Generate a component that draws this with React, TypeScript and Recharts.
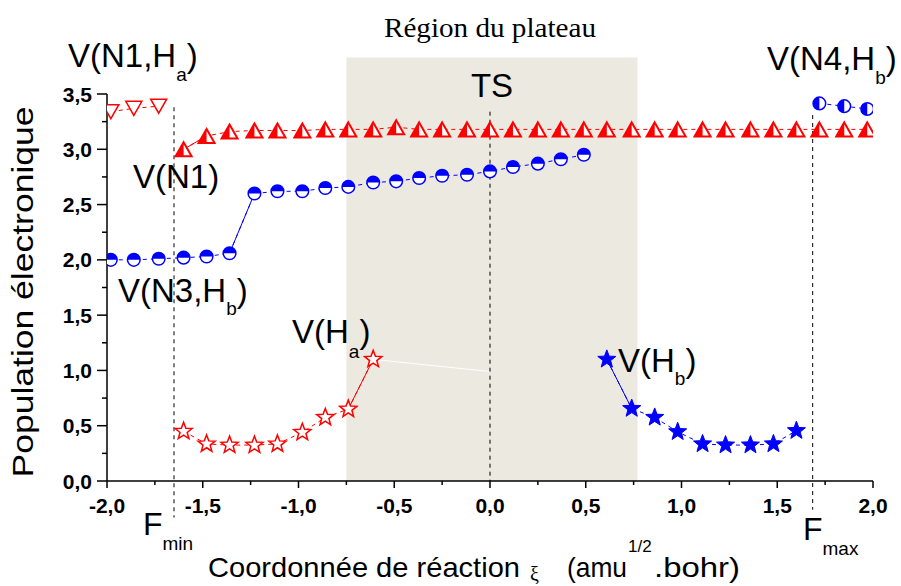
import React from "react";
import { LineChart, Line, XAxis, YAxis, ReferenceArea, ReferenceLine } from "recharts";

// coordonnée de réaction (amu^1/2.bohr) / population des bassins
const xN1Ha = [-1.98, -1.86, -1.73];
const popN1Ha = [3.34, 3.37, 3.39];

const xN1 = [
  -1.6, -1.48, -1.36, -1.23, -1.11, -0.98, -0.86, -0.74, -0.61, -0.49, -0.37, -0.25, -0.12, 0.0, 0.12,
  0.25, 0.37, 0.49, 0.61, 0.74, 0.86, 0.98, 1.11, 1.23, 1.36, 1.48, 1.6, 1.72, 1.85, 1.97,
];
const popN1 = [
  3.0, 3.12, 3.16, 3.17, 3.17, 3.17, 3.18, 3.18, 3.18, 3.2, 3.18, 3.18, 3.18, 3.18, 3.18,
  3.18, 3.18, 3.18, 3.18, 3.18, 3.18, 3.18, 3.18, 3.18, 3.18, 3.18, 3.18, 3.18, 3.18, 3.18,
];

const xN3 = [
  -1.98, -1.86, -1.73, -1.6, -1.48, -1.36, -1.23, -1.11, -0.98, -0.86, -0.74, -0.61, -0.49, -0.37, -0.25,
  -0.12, 0.0, 0.12, 0.25, 0.37, 0.49,
];
const popN3 = [
  2.0, 2.0, 2.01, 2.02, 2.03, 2.06, 2.6, 2.62, 2.62, 2.65, 2.66, 2.7, 2.71, 2.74, 2.76,
  2.77, 2.8, 2.84, 2.87, 2.91, 2.95,
];

const xHa = [-1.6, -1.48, -1.36, -1.23, -1.11, -0.98, -0.86, -0.74, -0.61];
const popHa = [0.45, 0.335, 0.325, 0.325, 0.335, 0.44, 0.575, 0.65, 1.1];

const xHb = [0.61, 0.74, 0.86, 0.98, 1.11, 1.23, 1.36, 1.48, 1.6];
const popHb = [1.1, 0.655, 0.575, 0.445, 0.335, 0.325, 0.325, 0.335, 0.455];

const xN4Hb = [1.72, 1.85, 1.97];
const popN4Hb = [3.415, 3.39, 3.365];

const xTicks = [-2, -1.75, -1.5, -1.25, -1, -0.75, -0.5, -0.25, 0, 0.25, 0.5, 0.75, 1, 1.25, 1.5, 1.75, 2];
const yTicks = [0, 0.25, 0.5, 0.75, 1, 1.25, 1.5, 1.75, 2, 2.25, 2.5, 2.75, 3, 3.25, 3.5];

// région du plateau, TS, Fmin / Fmax
const plateau = [-0.75, 0.77];
const plateauTop = 3.83;
const fMin = -1.65;
const fMax = 1.685;

const RED = "#FF0000";
const BLUE = "#0000FF";
const SANS = "Liberation Sans, Arial, sans-serif";
const SERIF = "Liberation Serif, Times New Roman, serif";

const pts = (xs: number[], ys: number[]) => xs.map((x, i) => ({ x, y: ys[i] }));
const fmt = (v: number) => v.toFixed(1).replace(".", ",");
const isMajor = (v: number) => Math.abs(v * 2 - Math.round(v * 2)) < 1e-6;

function XTick(p: any) {
  const { x, y, payload } = p;
  const axisY = y - 8;
  const major = isMajor(payload.value);
  return (
    <g>
      <line x1={x} x2={x} y1={axisY} y2={axisY + (major ? 7 : 4)} stroke="#000" strokeWidth={1.5} />
      {major && (
        <text x={x} y={axisY + 32} textAnchor="middle" fontFamily={SANS} fontWeight="bold" fontSize={21} fill="#000">
          {fmt(payload.value)}
        </text>
      )}
    </g>
  );
}

function YTick(p: any) {
  const { x, y, payload } = p;
  const axisX = x + 10;
  const major = isMajor(payload.value);
  return (
    <g>
      <line x1={axisX} x2={axisX - (major ? 10 : 5)} y1={y} y2={y} stroke="#000" strokeWidth={1.5} />
      {major && (
        <text x={axisX - 15} y={y + 7.5} textAnchor="end" fontFamily={SANS} fontWeight="bold" fontSize={21} fill="#000">
          {fmt(payload.value)}
        </text>
      )}
    </g>
  );
}

// symboles
function triUp(p: any, key: string) {
  const { cx, cy } = p;
  return (
    <g key={key}>
      <polygon points={`${cx},${cy - 7} ${cx + 8},${cy + 7} ${cx - 8},${cy + 7}`} fill="#fff" stroke={RED} strokeWidth={2} />
      <polygon points={`${cx},${cy - 7} ${cx},${cy + 7} ${cx - 8},${cy + 7}`} fill={RED} />
    </g>
  );
}

function triDown(p: any, key: string) {
  const { cx, cy } = p;
  return (
    <polygon key={key} points={`${cx - 8},${cy - 7} ${cx + 8},${cy - 7} ${cx},${cy + 7}`} fill="#fff" stroke={RED} strokeWidth={1.5} />
  );
}

function circTop(p: any, key: string) {
  const { cx, cy } = p;
  const r = 6.3;
  return (
    <g key={key}>
      <circle cx={cx} cy={cy} r={r} fill="#fff" stroke={BLUE} strokeWidth={1.5} />
      <path d={`M${cx - r},${cy} A${r},${r} 0 0 1 ${cx + r},${cy} Z`} fill={BLUE} />
    </g>
  );
}

function circLeft(p: any, key: string) {
  const { cx, cy } = p;
  const r = 6.3;
  return (
    <g key={key}>
      <circle cx={cx} cy={cy} r={r} fill="#fff" stroke={BLUE} strokeWidth={1.5} />
      <path d={`M${cx},${cy - r} A${r},${r} 0 0 0 ${cx},${cy + r} Z`} fill={BLUE} />
    </g>
  );
}

function starPts(cx: number, cy: number, R: number, r: number) {
  const out: string[] = [];
  for (let i = 0; i < 10; i++) {
    const a = -Math.PI / 2 + (i * Math.PI) / 5;
    const rr = i % 2 === 0 ? R : r;
    out.push(`${cx + rr * Math.cos(a)},${cy + rr * Math.sin(a)}`);
  }
  return out.join(" ");
}

function starOpen(p: any, key: string) {
  return <polygon key={key} points={starPts(p.cx, p.cy, 9, 3.8)} fill="#fff" stroke={RED} strokeWidth={1.5} />;
}

function starFill(p: any, key: string) {
  return <polygon key={key} points={starPts(p.cx, p.cy, 9.5, 4)} fill={BLUE} stroke={BLUE} strokeWidth={1} />;
}

const dotFn = (fn: (p: any, k: string) => React.ReactElement, name: string) => (p: any) => fn(p, `${name}-${p.index}`);

function Sub({ label, sub, after = ")", x, y, size = 33, subSize = 19, dy = 14 }: any) {
  return (
    <text x={x} y={y} fontFamily={SANS} fontSize={size} fill="#000">
      {label}
      <tspan fontSize={subSize} dy={dy}>
        {sub}
      </tspan>
      <tspan fontSize={size} dy={-dy}>
        {after}
      </tspan>
    </text>
  );
}

export default function App() {
  const dash = "4 4";
  return (
    <div style={{ position: "absolute", left: 0, top: 0, width: 901, height: 586, background: "#fff" }}>
      <LineChart width={901} height={586} margin={{ top: 94, right: 28, bottom: 75, left: 47 }}>
        <XAxis
          type="number"
          dataKey="x"
          domain={[-2, 2]}
          ticks={xTicks}
          interval={0}
          height={30}
          tickSize={8}
          tickMargin={0}
          tickLine={false}
          axisLine={{ stroke: "#000", strokeWidth: 1.5 }}
          tick={(p: any) => <XTick {...p} />}
          allowDataOverflow
        />
        <YAxis
          type="number"
          domain={[0, 3.5]}
          ticks={yTicks}
          interval={0}
          width={60}
          tickSize={10}
          tickMargin={0}
          tickLine={false}
          axisLine={{ stroke: "#000", strokeWidth: 1.5 }}
          tick={(p: any) => <YTick {...p} />}
          allowDataOverflow
        />
        <ReferenceArea
          x1={plateau[0]}
          x2={plateau[1]}
          y1={0}
          y2={plateauTop}
          fill="#ECE9E0"
          fillOpacity={1}
          stroke="none"
          ifOverflow="visible"
        />
        <ReferenceLine
          segment={[{ x: xHa[8], y: popHa[8] }, { x: 0, y: 0.99 }]}
          stroke="#fff"
          strokeWidth={1}
          ifOverflow="visible"
        />
        <ReferenceLine segment={[{ x: fMin, y: 3.38 }, { x: fMin, y: -0.33 }]} stroke="#000" strokeDasharray={dash} ifOverflow="visible" />
        <ReferenceLine segment={[{ x: 0, y: 3.34 }, { x: 0, y: 0 }]} stroke="#000" strokeDasharray={dash} ifOverflow="visible" />
        <ReferenceLine segment={[{ x: fMax, y: 3.31 }, { x: fMax, y: -0.26 }]} stroke="#000" strokeDasharray={dash} ifOverflow="visible" />

        {/* segments pleins aux sauts */}
        <Line data={pts(xN1, popN1).slice(0, 2)} dataKey="y" stroke={RED} strokeWidth={1} dot={false} isAnimationActive={false} />
        <Line data={pts(xN3, popN3).slice(5, 7)} dataKey="y" stroke={BLUE} strokeWidth={1} dot={false} isAnimationActive={false} />
        <Line data={pts(xHa, popHa).slice(7, 9)} dataKey="y" stroke={RED} strokeWidth={1} dot={false} isAnimationActive={false} />
        <Line data={pts(xHb, popHb).slice(0, 2)} dataKey="y" stroke={BLUE} strokeWidth={1} dot={false} isAnimationActive={false} />

        <Line data={pts(xN1Ha, popN1Ha)} dataKey="y" stroke={RED} strokeWidth={1} strokeDasharray={dash} dot={dotFn(triDown, "n1ha")} isAnimationActive={false} />
        <Line data={pts(xN1, popN1)} dataKey="y" stroke={RED} strokeWidth={1} strokeDasharray={dash} dot={dotFn(triUp, "n1")} isAnimationActive={false} />
        <Line data={pts(xN3, popN3)} dataKey="y" stroke={BLUE} strokeWidth={1} strokeDasharray={dash} dot={dotFn(circTop, "n3")} isAnimationActive={false} />
        <Line data={pts(xN4Hb, popN4Hb)} dataKey="y" stroke={BLUE} strokeWidth={1} strokeDasharray={dash} dot={dotFn(circLeft, "n4")} isAnimationActive={false} />
        <Line data={pts(xHa, popHa)} dataKey="y" stroke={RED} strokeWidth={1} strokeDasharray={dash} dot={dotFn(starOpen, "ha")} isAnimationActive={false} />
        <Line data={pts(xHb, popHb)} dataKey="y" stroke={BLUE} strokeWidth={1} strokeDasharray={dash} dot={dotFn(starFill, "hb")} isAnimationActive={false} />
      </LineChart>

      <svg width={901} height={586} style={{ position: "absolute", left: 0, top: 0, pointerEvents: "none" }}>
        <text x={490} y={37} textAnchor="middle" fontFamily={SERIF} fontSize={28} textLength={212} lengthAdjust="spacingAndGlyphs">
          Région du plateau
        </text>
        <Sub label="V(N1,H" sub="a" x={68} y={67} />
        <text x={133} y={188} fontFamily={SANS} fontSize={33}>V(N1)</text>
        <Sub label="V(N3,H" sub="b" x={118} y={302} dy={13} />
        <Sub label="V(H" sub="a" x={292} y={343} dy={15} />
        <Sub label="V(H" sub="b" x={618} y={372} dy={13} />
        <text x={492} y={97} textAnchor="middle" fontFamily={SANS} fontSize={33}>TS</text>
        <Sub label="V(N4,H" sub="b" x={767} y={70} />
        <Sub label="F" sub="min" after="" x={143} y={535} size={32} subSize={19} dy={15} />
        <Sub label="F" sub="max" after="" x={803} y={540} size={32} subSize={19} dy={15} />

        <text
          x={33}
          y={292}
          transform="rotate(-90 33 292)"
          textAnchor="middle"
          fontFamily={SANS}
          fontSize={30}
          textLength={371}
          lengthAdjust="spacingAndGlyphs"
        >
          Population électronique
        </text>

        <text x={208} y={577} fontFamily={SANS} fontSize={28} textLength={312} lengthAdjust="spacingAndGlyphs">
          Coordonnée de réaction
        </text>
        <text x={530} y={581} fontFamily={SERIF} fontSize={20}>ξ</text>
        <text x={567} y={577} fontFamily={SANS} fontSize={28} textLength={60} lengthAdjust="spacingAndGlyphs">(amu</text>
        <text x={628} y={552} fontFamily={SANS} fontSize={17}>1/2</text>
        <text x={654} y={577} fontFamily={SANS} fontSize={28} textLength={86} lengthAdjust="spacingAndGlyphs">
          .bohr)
        </text>
      </svg>
    </div>
  );
}
